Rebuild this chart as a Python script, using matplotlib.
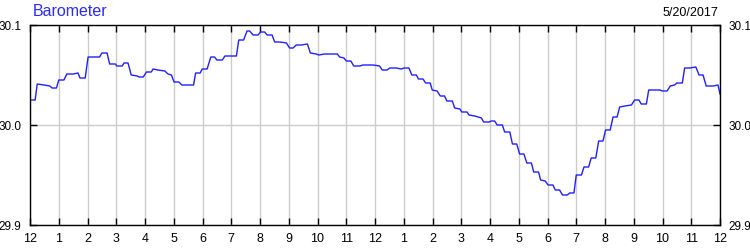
import matplotlib
matplotlib.use('Agg')
import matplotlib.pyplot as plt

# hours since midnight, barometric pressure (inHg)
hours = [0.00, 0.18, 0.25, 0.49, 0.69, 0.77, 0.92, 1.00, 1.18, 1.28, 1.50, 1.67,
         1.74, 1.92, 2.02, 2.42, 2.50, 2.68, 2.77, 2.97, 3.02, 3.21, 3.27, 3.41,
         3.52, 3.73, 3.79, 3.94, 4.05, 4.22, 4.28, 4.45, 4.69, 4.80, 4.92, 5.01,
         5.18, 5.28, 5.69, 5.76, 5.92, 5.99, 6.16, 6.29, 6.42, 6.50, 6.69, 6.78,
         7.18, 7.26, 7.43, 7.55, 7.64, 7.76, 7.93, 8.02, 8.16, 8.25, 8.42, 8.51,
         8.69, 8.92, 9.03, 9.15, 9.26, 9.44, 9.65, 9.75, 9.96, 10.04, 10.25, 10.69,
         10.77, 10.92, 11.00, 11.16, 11.26, 11.47, 11.58, 11.93, 12.16, 12.25, 12.42, 12.51,
         12.74, 12.92, 13.00, 13.18, 13.28, 13.44, 13.51, 13.67, 13.76, 13.92, 13.99, 14.16,
         14.27, 14.42, 14.50, 14.69, 14.77, 14.95, 15.02, 15.20, 15.27, 15.47, 15.58, 15.70,
         15.78, 15.97, 16.04, 16.16, 16.25, 16.43, 16.51, 16.69, 16.78, 16.93, 17.03, 17.18,
         17.28, 17.44, 17.52, 17.69, 17.76, 17.92, 18.02, 18.19, 18.27, 18.42, 18.52, 18.69,
         18.77, 18.92, 19.00, 19.18, 19.27, 19.43, 19.52, 19.68, 19.78, 19.93, 20.02, 20.18,
         20.28, 20.42, 20.51, 20.69, 20.92, 21.03, 21.18, 21.26, 21.44, 21.52, 21.92, 21.99,
         22.16, 22.27, 22.42, 22.50, 22.69, 22.77, 22.95, 23.16, 23.27, 23.41, 23.52, 23.76,
         23.93, 24.00]
pressure = [30.025, 30.025, 30.041, 30.040, 30.039, 30.037, 30.037, 30.045, 30.045, 30.051, 30.051, 30.052,
            30.047, 30.047, 30.068, 30.068, 30.072, 30.072, 30.061, 30.061, 30.059, 30.059, 30.062, 30.062,
            30.050, 30.049, 30.048, 30.048, 30.053, 30.053, 30.056, 30.055, 30.054, 30.051, 30.050, 30.043,
            30.043, 30.040, 30.040, 30.052, 30.052, 30.056, 30.056, 30.068, 30.068, 30.065, 30.065, 30.069,
            30.069, 30.085, 30.085, 30.094, 30.094, 30.090, 30.090, 30.093, 30.093, 30.090, 30.090, 30.083,
            30.083, 30.082, 30.077, 30.077, 30.080, 30.080, 30.081, 30.072, 30.071, 30.070, 30.071, 30.071,
            30.068, 30.067, 30.064, 30.064, 30.059, 30.059, 30.060, 30.060, 30.059, 30.055, 30.055, 30.057,
            30.057, 30.056, 30.057, 30.057, 30.050, 30.050, 30.046, 30.046, 30.042, 30.042, 30.035, 30.034,
            30.029, 30.029, 30.024, 30.024, 30.017, 30.016, 30.013, 30.013, 30.010, 30.009, 30.008, 30.007,
            30.003, 30.003, 30.004, 30.004, 30.000, 30.000, 29.993, 29.993, 29.981, 29.981, 29.971, 29.971,
            29.962, 29.962, 29.953, 29.953, 29.945, 29.944, 29.940, 29.940, 29.935, 29.935, 29.930, 29.930,
            29.932, 29.932, 29.950, 29.950, 29.958, 29.958, 29.967, 29.967, 29.984, 29.984, 29.995, 29.995,
            30.008, 30.008, 30.018, 30.019, 30.020, 30.025, 30.025, 30.021, 30.021, 30.035, 30.035, 30.034,
            30.034, 30.039, 30.040, 30.042, 30.042, 30.057, 30.057, 30.058, 30.050, 30.050, 30.039, 30.039,
            30.040, 30.031]

tick_hours = list(range(25))
tick_labels = ['12'] + [str(h) for h in range(1, 12)] + ['12'] + [str(h) for h in range(1, 12)] + ['12']
y_ticks = [29.9, 30.0, 30.1]
y_labels = ['29.9', '30.0', '30.1']


def main():
    plt.rcParams['font.family'] = ['Liberation Sans', 'DejaVu Sans']
    fig = plt.figure(figsize=(7.5, 2.5), dpi=100)
    ax = fig.add_axes([0.04, 0.1, 0.92, 0.8])

    ax.plot(hours, pressure, color='#2020ff', lw=1.0)

    ax.set_xlim(0, 24)
    ax.set_ylim(29.9, 30.1)
    ax.set_xticks(tick_hours)
    ax.set_xticklabels(tick_labels)
    ax.set_yticks(y_ticks)
    ax.set_yticklabels(y_labels)
    ax.grid(True, color='#cccccc', lw=1)
    ax.set_axisbelow(True)
    ax.tick_params(direction='in', length=5, width=1, color='black', labelsize=9,
                   top=True, right=True, labelright=True, pad=6)
    ax.tick_params(axis='y', labelsize=8.5)
    for s in ax.spines.values():
        s.set_linewidth(1)
        s.set_color('black')

    fig.text(33 / 750, 1 - 12 / 250, 'Barometer', color='#2b2bff', fontsize=11.5,
             ha='left', va='center')
    fig.text(718 / 750, 1 - 13 / 250, '5/20/2017', color='black', fontsize=9,
             ha='right', va='center')

    fig.savefig('out.png', dpi=100)


if __name__ == '__main__':
    main()
